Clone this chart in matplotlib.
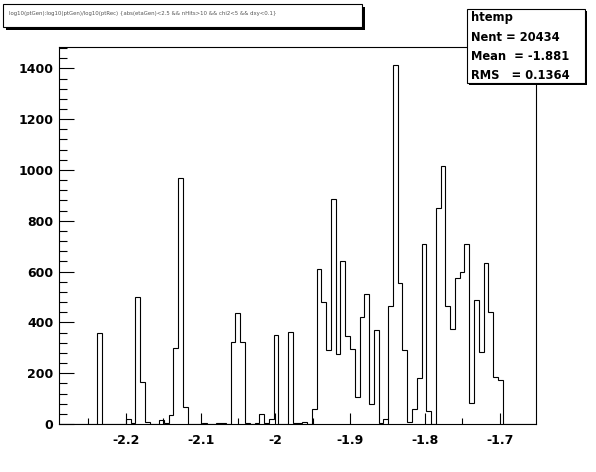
import numpy as np
import matplotlib
matplotlib.use('Agg')
import matplotlib.pyplot as plt
from matplotlib.patches import Rectangle
from matplotlib.ticker import MultipleLocator, FuncFormatter

W, H = 596, 472

# histogram htemp: 100 bins
x_min, x_max = -2.2894, -1.6517
n_bins = 100
counts = [
    0, 0, 0, 0, 0, 0, 0, 0, 357, 0,
    0, 0, 0, 0, 18, 5, 501, 164, 9, 0,
    0, 16, 5, 35, 298, 967, 66, 0, 0, 0,
    3, 0, 0, 3, 3, 0, 322, 436, 324, 3,
    0, 3, 38, 3, 18, 350, 0, 0, 361, 3,
    3, 7, 0, 58, 609, 482, 291, 885, 276, 642,
    348, 295, 105, 423, 510, 79, 369, 2, 20, 463,
    1413, 554, 291, 7, 58, 180, 707, 53, 0, 849,
    1016, 465, 373, 576, 600, 707, 81, 488, 285, 633,
    442, 186, 173, 0, 0, 0, 0, 0, 0, 0,
]
stats_lines = ['htemp', 'Nent = 20434', 'Mean  = -1.881', 'RMS   = 0.1364']
title = 'log10(ptGen):log10(ptGen)/log10(ptRec) {abs(etaGen)<2.5 && nHits>10 && chi2<5 && dxy<0.1}'
y_max = 1484

plt.rcParams['axes.unicode_minus'] = False
plt.rcParams['font.family'] = 'DejaVu Sans'

fig = plt.figure(figsize=(W / 100, H / 100), dpi=100)
fig.patch.set_facecolor('white')


def px(x, y):
    # pixel coords (from top-left) -> figure fraction
    return x / W, 1 - y / H


ax = fig.add_axes([59 / W, (H - 424) / H, 477 / W, 377 / H])
edges = np.linspace(x_min, x_max, n_bins + 1)
ax.stairs(counts, edges, color='k', lw=0.8, baseline=0)
ax.set_xlim(x_min, x_max)
ax.set_ylim(0, y_max)

for s in ax.spines.values():
    s.set_linewidth(0.8)

ax.xaxis.set_major_locator(MultipleLocator(0.1))
ax.xaxis.set_minor_locator(MultipleLocator(0.05))
ax.yaxis.set_major_locator(MultipleLocator(200))
ax.yaxis.set_minor_locator(MultipleLocator(40))
ax.xaxis.set_major_formatter(FuncFormatter(lambda v, p: '%g' % round(v, 3)))
ax.tick_params(axis='both', which='both', direction='in', top=False, right=False,
               width=0.8, labelsize=9)
ax.tick_params(axis='x', which='major', length=8, pad=7)
ax.tick_params(axis='x', which='minor', length=4)
ax.tick_params(axis='y', which='major', length=11, pad=4)
ax.tick_params(axis='y', which='minor', length=5.5)
for lab in ax.get_xticklabels() + ax.get_yticklabels():
    lab.set_fontweight('bold')

# title box with shadow
x0, y0 = px(3, 27)
x1, y1 = px(362, 4)
fig.add_artist(Rectangle((x0 + 3 / W, y0 - 3 / H), x1 - x0, y1 - y0,
                         transform=fig.transFigure, facecolor='black', edgecolor='black', lw=0))
fig.add_artist(Rectangle((x0, y0), x1 - x0, y1 - y0, transform=fig.transFigure,
                         facecolor='white', edgecolor='black', lw=0.8))
tx, ty = px(9, 13)
fig.text(tx, ty, title, fontsize=3.9, color='#555555', ha='left', va='center')

# stats box with shadow
x0, y0 = px(467, 83)
x1, y1 = px(585, 9)
fig.add_artist(Rectangle((x0 + 2 / W, y0 - 2 / H), x1 - x0, y1 - y0,
                         transform=fig.transFigure, facecolor='black', edgecolor='black', lw=0, zorder=5))
fig.add_artist(Rectangle((x0, y0), x1 - x0, y1 - y0, transform=fig.transFigure,
                         facecolor='white', edgecolor='black', lw=0.8, zorder=6))
for i, line in enumerate(stats_lines):
    tx, ty = px(471, 21.5 + 19.1 * i)
    fig.text(tx, ty, line, fontsize=8.3, fontweight='bold', ha='left', va='baseline', zorder=7)

fig.savefig('out.png', dpi=100, facecolor='white')
